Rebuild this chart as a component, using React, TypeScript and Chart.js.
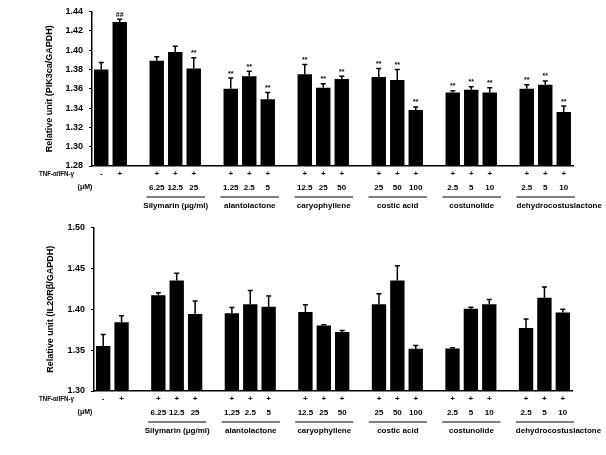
import React, { useEffect, useRef } from "react";
import { Chart, registerables } from "chart.js";

Chart.register(...registerables);

// slot layout: control "-", TNF "+", then 6 groups of 3 (with an empty slot before each group)
const tnfRow = ["-", "+", "", "+", "+", "+", "", "+", "+", "+", "", "+", "+", "+", "", "+", "+", "+", "", "+", "+", "+", "", "+", "+", "+"];
const concRow = ["", "", "", "6.25", "12.5", "25", "", "1.25", "2.5", "5", "", "12.5", "25", "50", "", "25", "50", "100", "", "2.5", "5", "10", "", "2.5", "5", "10"];
const groupNames = ["Silymarin (μg/ml)", "alantolactone", "caryophyllene", "costic acid", "costunolide", "dehydrocostuslactone"];

const pikValues = [1.380, 1.429, null, 1.389, 1.398, 1.381, null, 1.360, 1.373, 1.349, null, 1.375, 1.361, 1.370, null, 1.372, 1.369, 1.338, null, 1.356, 1.359, 1.356, null, 1.360, 1.364, 1.336];
const pikErrors = [0.007, 0.003, 0, 0.004, 0.006, 0.011, 0, 0.011, 0.005, 0.007, 0, 0.010, 0.004, 0.003, 0, 0.009, 0.011, 0.003, 0, 0.002, 0.003, 0.005, 0, 0.004, 0.004, 0.006];
const pikSig = ["", "##", "", "", "", "**", "", "**", "**", "**", "", "**", "**", "**", "", "**", "**", "**", "", "**", "**", "**", "", "**", "**", "**"];

const il20Values = [1.355, 1.384, null, 1.417, 1.435, 1.394, null, 1.395, 1.406, 1.403, null, 1.3965, 1.380, 1.372, null, 1.406, 1.435, 1.3515, null, 1.352, 1.4005, 1.406, null, 1.377, 1.414, 1.396];
const il20Errors = [0.014, 0.008, 0, 0.003, 0.009, 0.016, 0, 0.007, 0.017, 0.013, 0, 0.009, 0.001, 0.002, 0, 0.013, 0.018, 0.004, 0, 0.001, 0.002, 0.006, 0, 0.011, 0.013, 0.004];
const il20Sig: string[] = [];

const pikTicks = { min: 1.28, max: 1.44, step: 0.02 };
const il20Ticks = { min: 1.30, max: 1.50, step: 0.05 };

const FONT = '"Liberation Sans", Arial, sans-serif';

function makePlugin(values: (number | null)[], errors: number[], sig: string[]) {
  return {
    id: "annot",
    afterDatasetsDraw(chart: any) {
      const ctx = chart.ctx;
      const ys = chart.scales.y;
      const xs = chart.scales.x;
      const meta = chart.getDatasetMeta(0);
      ctx.save();
      ctx.strokeStyle = "#000";
      ctx.fillStyle = "#000";
      meta.data.forEach((el: any, i: number) => {
        const v = values[i];
        if (v == null) return;
        const top = ys.getPixelForValue(v + errors[i]);
        ctx.lineWidth = 1.5;
        ctx.beginPath();
        ctx.moveTo(el.x, el.y);
        ctx.lineTo(el.x, top);
        ctx.moveTo(el.x - 2.5, top);
        ctx.lineTo(el.x + 2.5, top);
        ctx.stroke();
        if (sig[i]) {
          ctx.font = `bold 7px ${FONT}`;
          ctx.textAlign = "center";
          ctx.textBaseline = "bottom";
          ctx.fillText(sig[i], el.x, top - 1);
        }
      });
      const b = chart.chartArea.bottom;
      const slotW = xs.getPixelForValue(1) - xs.getPixelForValue(0);
      ctx.font = `bold 8px ${FONT}`;
      ctx.textBaseline = "middle";
      ctx.textAlign = "center";
      tnfRow.forEach((t, i) => {
        if (t) ctx.fillText(t, xs.getPixelForValue(i), b + 8);
      });
      concRow.forEach((t, i) => {
        if (t) ctx.fillText(t, xs.getPixelForValue(i), b + 22);
      });
      ctx.font = `bold 7px ${FONT}`;
      ctx.fillText("(μM)", 85, b + 21);
      // row label, condensed to fit
      const lbl = "TNF-α/IFN-γ";
      const w = ctx.measureText(lbl).width;
      ctx.save();
      ctx.translate(74, b + 8);
      ctx.scale(35 / w, 1);
      ctx.textAlign = "right";
      ctx.fillText(lbl, 0, 0);
      ctx.restore();
      ctx.font = `bold 8px ${FONT}`;
      ctx.lineWidth = 1;
      groupNames.forEach((name, g) => {
        const i0 = 3 + 4 * g;
        const x0 = xs.getPixelForValue(i0) - slotW / 2 - 1;
        const x1 = xs.getPixelForValue(i0 + 2) + slotW / 2 + 2;
        ctx.beginPath();
        ctx.moveTo(x0, b + 31);
        ctx.lineTo(x1, b + 31);
        ctx.stroke();
        const tw = ctx.measureText(name).width;
        if (tw > x1 - x0 + 10) {
          ctx.textAlign = "left";
          ctx.fillText(name, x0, b + 40);
        } else {
          ctx.textAlign = "center";
          ctx.fillText(name, (x0 + x1) / 2, b + 40);
        }
      });
      ctx.restore();
    },
  };
}

function BarChart(props: {
  values: (number | null)[];
  errors: number[];
  sig: string[];
  ticks: { min: number; max: number; step: number };
  title: string;
  top: number;
  height: number;
  padTop: number;
  padLeft: number;
  yWidth: number;
  padRight: number;
  xHeight: number;
}) {
  const ref = useRef<HTMLCanvasElement>(null);
  useEffect(() => {
    const { values, errors, sig, ticks, title } = props;
    const chart = new Chart(ref.current as HTMLCanvasElement, {
      type: "bar",
      data: {
        labels: tnfRow.map((_, i) => String(i)),
        datasets: [
          {
            data: values as any,
            base: ticks.min,
            backgroundColor: "#000",
            borderColor: "#000",
            borderWidth: 0,
            barPercentage: 0.78,
            categoryPercentage: 1,
          } as any,
        ],
      },
      options: {
        animation: false,
        responsive: false,
        events: [],
        layout: { padding: { top: props.padTop, left: props.padLeft, right: props.padRight, bottom: 0 } },
        plugins: { legend: { display: false }, tooltip: { enabled: false } },
        scales: {
          x: {
            type: "category",
            grid: { display: false },
            border: { display: true, color: "#000", width: 1.5 },
            ticks: { display: false },
            afterFit: (s: any) => {
              s.height = props.xHeight;
            },
          },
          y: {
            min: ticks.min,
            max: ticks.max,
            grid: { display: true, drawOnChartArea: false, drawTicks: true, tickLength: 3, color: "#000", lineWidth: 1 },
            border: { display: true, color: "#000", width: 1.5 },
            ticks: {
              stepSize: ticks.step,
              color: "#000",
              padding: 6,
              font: { family: FONT, size: 9, weight: "bold" },
              callback: (v: any) => Number(v).toFixed(2),
            },
            title: {
              display: true,
              text: title,
              color: "#000",
              font: { family: FONT, size: 9, weight: "bold" },
            },
            afterFit: (s: any) => {
              s.width = props.yWidth;
            },
          },
        },
      },
      plugins: [makePlugin(values, errors, sig)],
    });
    return () => chart.destroy();
  }, []);
  return (
    <canvas
      ref={ref}
      width={606}
      height={props.height}
      style={{ position: "absolute", left: 0, top: props.top, width: 606, height: props.height, display: "block" }}
    />
  );
}

export default function App() {
  return (
    <div style={{ position: "absolute", left: 0, top: 0, width: 606, height: 455, background: "#fff", overflow: "hidden" }}>
      <BarChart
        values={pikValues}
        errors={pikErrors}
        sig={pikSig}
        ticks={pikTicks}
        title="Relative unit (PIK3ca/GAPDH)"
        top={0}
        height={220}
        padTop={11}
        padLeft={40}
        yWidth={52}
        padRight={33}
        xHeight={54}
      />
      <BarChart
        values={il20Values}
        errors={il20Errors}
        sig={il20Sig}
        ticks={il20Ticks}
        title="Relative unit (IL20Rβ/GAPDH)"
        top={216}
        height={239}
        padTop={11}
        padLeft={41}
        yWidth={53}
        padRight={34}
        xHeight={64}
      />
    </div>
  );
}
